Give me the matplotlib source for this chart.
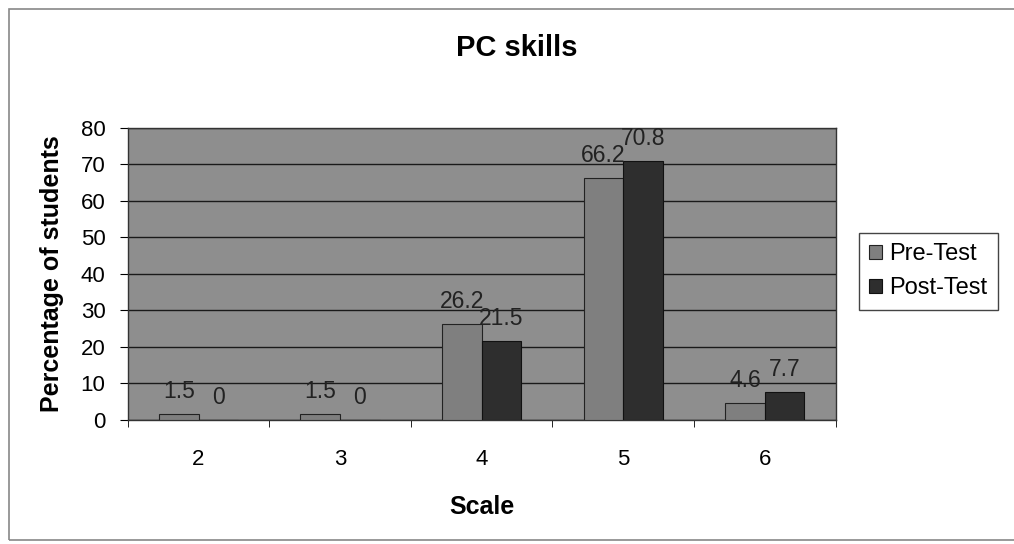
import matplotlib.pyplot as plt
from matplotlib.patches import Rectangle
import numpy as np

# data
categories = ["2", "3", "4", "5", "6"]
pre_test = [1.5, 1.5, 26.2, 66.2, 4.6]
post_test = [0, 0, 21.5, 70.8, 7.7]
series_names = ["Pre-Test", "Post-Test"]

plt.rcParams['font.family'] = ['Liberation Sans', 'DejaVu Sans']

fig = plt.figure(figsize=(10.14, 5.44), dpi=100)
ax = fig.add_axes([0.126, 0.228, 0.698, 0.537])

# outer frame of the chart
fig.patches.append(Rectangle((0.009, 0.008), 1.2, 0.975, transform=fig.transFigure,
                             fill=False, edgecolor='#888888', linewidth=1.2))

x = np.arange(len(categories))
w = 0.28
b1 = ax.bar(x - w / 2, pre_test, w, color='#7f7f7f', edgecolor='#222222', linewidth=0.8,
            label=series_names[0], zorder=3)
b2 = ax.bar(x + w / 2, post_test, w, color='#2e2e2e', edgecolor='#111111', linewidth=0.8,
            label=series_names[1], zorder=3)

for bars, vals in ((b1, pre_test), (b2, post_test)):
    for r, v in zip(bars, vals):
        ax.annotate(f"{v:g}", (r.get_x() + r.get_width() / 2, v), xytext=(0, 8),
                    textcoords='offset points', ha='center', va='bottom',
                    fontsize=16.5, color='#222222', zorder=4)

ax.set_facecolor('#8e8e8e')
ax.set_xlim(-0.5, len(categories) - 0.5)
ax.set_ylim(0, 80)
ax.set_yticks(range(0, 81, 10))
ax.yaxis.grid(True, color='#1a1a1a', linewidth=1.0, zorder=1)
ax.set_axisbelow(True)

ax.set_xticks(x)
ax.set_xticklabels(categories)
ax.set_xticks(np.arange(-0.5, len(categories), 1), minor=True)
ax.tick_params(axis='x', which='major', length=0, pad=21, labelsize=16)
ax.tick_params(axis='x', which='minor', length=5, direction='out')
ax.tick_params(axis='y', length=6, direction='out', labelsize=16, pad=10)

for s in ax.spines.values():
    s.set_color('#333333')
    s.set_linewidth(1.0)

ax.set_title("PC skills", fontsize=21, fontweight='bold', pad=52, x=0.55)
ax.set_xlabel("Scale", fontsize=18, fontweight='bold', labelpad=18)
ax.set_ylabel("Percentage of students", fontsize=18, fontweight='bold', labelpad=12)

fig.legend(loc='upper left', bbox_to_anchor=(0.847, 0.572), fontsize=17,
           handlelength=0.55, handleheight=0.55, handletextpad=0.3,
           fancybox=False, edgecolor='#444444', framealpha=1, borderpad=0.45,
           labelspacing=0.5, borderaxespad=0)

fig.savefig("out.png", dpi=100)
